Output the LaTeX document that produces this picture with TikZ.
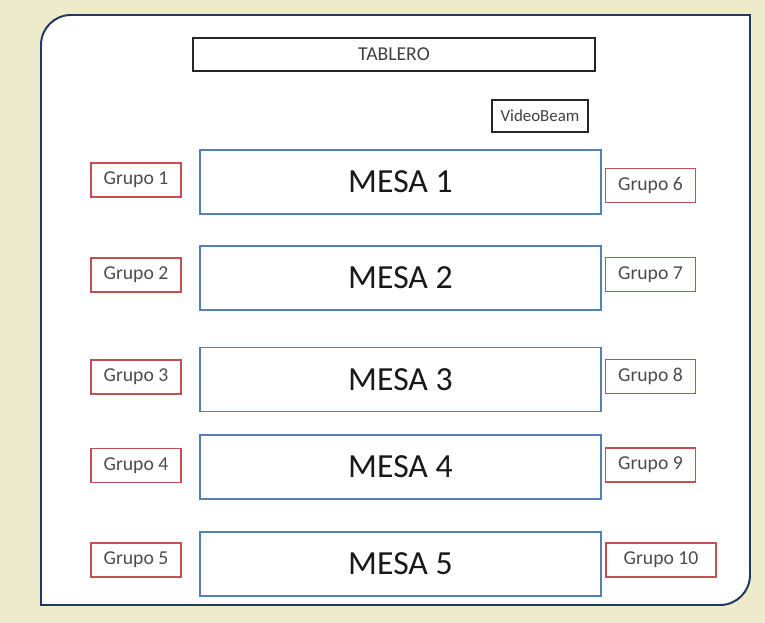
\documentclass[tikz,border=0pt]{standalone}
\usepackage{fontspec}
\setmainfont{Carlito}
\usepackage{tikz}

\definecolor{fondo}{RGB}{237,235,203}
\definecolor{marco}{RGB}{31,58,92}
\definecolor{azulmesa}{RGB}{84,128,180}
\definecolor{rojogrupo}{RGB}{192,80,84}

\begin{document}
\begin{tikzpicture}[x=0.025cm,y=-0.025cm,
  mesa/.style={draw=azulmesa,line width=1.1pt,minimum width=10.03cm,minimum height=1.6cm,inner sep=0pt,text=black!90,font=\fontsize{24}{28}\selectfont},
  grupo/.style={draw=rojogrupo,line width=1.1pt,minimum width=2.25cm,minimum height=0.84cm,inner sep=0pt,text=black!70,font=\fontsize{14}{16}\selectfont},
  caja/.style={draw=black!85,line width=1.4pt,inner sep=0pt,text=black!75}]
 \useasboundingbox (0,0) rectangle (765,623);
 \fill[fondo] (0,0) rectangle (765,623);
 % panel blanco
 \draw[marco,fill=white,line width=1.4pt] (41,45) .. controls (41,28.4) and (54.4,15) .. (71,15)
   -- (750,15) -- (750,575) .. controls (750,591.6) and (736.6,605) .. (720,605) -- (41,605) -- cycle;
 % tablero y videobeam
 \node[caja,minimum width=10.05cm,minimum height=0.83cm,font=\fontsize{14}{16}\selectfont] (tablero) at (394,54.5) {TABLERO};
 \node[caja,minimum width=2.4cm,minimum height=0.8cm,font=\fontsize{12}{14}\selectfont] (video) at (540,116) {VideoBeam};
 % mesas
 \node[mesa] (mesa1) at (400.5,182) {MESA 1};
 \node[mesa] (mesa2) at (400.5,278) {MESA 2};
 \node[mesa] (mesa3) at (400.5,379.5) {MESA 3};
 \node[mesa] (mesa4) at (400.5,467) {MESA 4};
 \node[mesa] (mesa5) at (400.5,564) {MESA 5};
 % grupos izquierda
 \node[grupo] (g1) at (136,180) {Grupo 1};
 \node[grupo] (g2) at (136,275) {Grupo 2};
 \node[grupo] (g3) at (136,377) {Grupo 3};
 \node[grupo] (g4) at (136,465.5) {Grupo 4};
 \node[grupo] (g5) at (136,560) {Grupo 5};
 % grupos derecha
 \node[grupo] (g6) at (650.5,185.5) {Grupo 6};
 \node[grupo] (g7) at (650.5,274.5) {Grupo 7};
 \node[grupo] (g8) at (650.5,376.5) {Grupo 8};
 \node[grupo] (g9) at (650.5,465) {Grupo 9};
 \node[grupo,minimum width=2.75cm] (g10) at (661,560) {Grupo 10};
\end{tikzpicture}
\end{document}
